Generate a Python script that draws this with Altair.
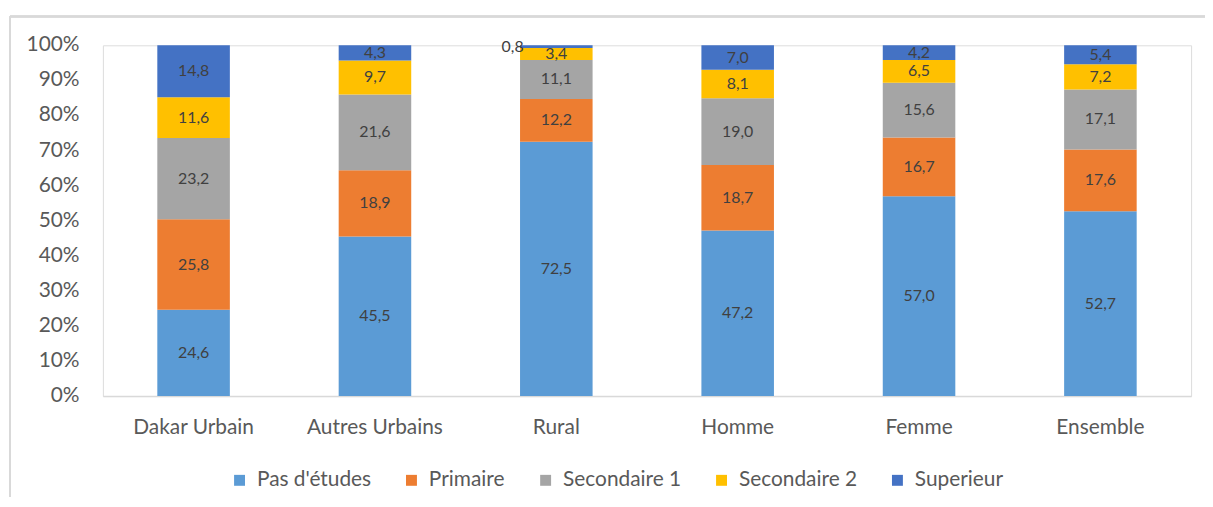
import altair as alt
import pandas as pd

categories = ["Dakar Urbain", "Autres Urbains", "Rural", "Homme", "Femme", "Ensemble"]
series = ["Pas d'études", "Primaire", "Secondaire 1", "Secondaire 2", "Superieur"]
colors = ["#5B9BD5", "#ED7D31", "#A5A5A5", "#FFC000", "#4472C4"]
y_ticks = [0, 10, 20, 30, 40, 50, 60, 70, 80, 90, 100]

pas_etudes = [24.6, 45.5, 72.5, 47.2, 57.0, 52.7]
primaire = [25.8, 18.9, 12.2, 18.7, 16.7, 17.6]
secondaire1 = [23.2, 21.6, 11.1, 19.0, 15.6, 17.1]
secondaire2 = [11.6, 9.7, 3.4, 8.1, 6.5, 7.2]
superieur = [14.8, 4.3, 0.8, 7.0, 4.2, 5.4]

values = [pas_etudes, primaire, secondaire1, secondaire2, superieur]

rows = []
for si, (s, vals) in enumerate(zip(series, values)):
    for c, v in zip(categories, vals):
        rows.append({"cat": c, "serie": s, "order": si, "value": v,
                     "label": f"{v:.1f}".replace(".", ",")})
df = pd.DataFrame(rows)
tick_df = pd.DataFrame({"t": y_ticks, "tl": [f"{t}%" for t in y_ticks]})

FONT = "Lato"
AX = 21

base = alt.Chart(df).transform_stack(
    stack="value", groupby=["cat"], sort=[alt.SortField("order", order="ascending")],
    as_=["y0", "y1"]
).transform_calculate(mid="(datum.y0 + datum.y1) / 2")

xaxis = alt.Axis(labelAngle=0, ticks=False, domainColor="#D9D9D9", domainWidth=1.5,
                 labelFontSize=AX, labelColor="#595959", labelPadding=21, labelFont=FONT)
xscale = alt.Scale(paddingInner=0.6, paddingOuter=0.3)
yscale = alt.Scale(domain=[0, 100], nice=False)

bars = base.mark_bar().encode(
    x=alt.X("cat:N", sort=categories, title=None, scale=xscale, axis=xaxis),
    y=alt.Y("y0:Q", scale=yscale, axis=None),
    y2="y1:Q",
    color=alt.Color("serie:N", sort=series, scale=alt.Scale(domain=series, range=colors),
                    legend=alt.Legend(title=None, orient="none", direction="horizontal",
                                      legendX=127, legendY=427, symbolType="square",
                                      symbolSize=121, symbolStrokeWidth=0, labelFontSize=AX,
                                      labelColor="#595959", labelFont=FONT, columnPadding=30,
                                      labelOffset=7, padding=0)),
)

texts = base.transform_filter("datum.value >= 1").mark_text(
    fontSize=16, color="#404040", font=FONT, baseline="middle"
).encode(x=alt.X("cat:N", sort=categories, title=None, scale=xscale, axis=xaxis),
         y=alt.Y("mid:Q", scale=yscale, axis=None), text="label:N")

small = base.transform_filter("datum.value < 1").mark_text(
    fontSize=16, color="#404040", font=FONT, baseline="middle", dx=-44
).encode(x=alt.X("cat:N", sort=categories, title=None, scale=xscale, axis=xaxis),
         y=alt.Y("mid:Q", scale=yscale, axis=None), text="label:N")

ylabels = alt.Chart(tick_df).mark_text(
    fontSize=AX, color="#595959", font=FONT, align="right", baseline="middle", clip=False
).encode(x=alt.value(-23.5), y=alt.Y("t:Q", scale=yscale, axis=None), text="tl:N")

border_left = alt.Chart(df).mark_rule(color="#D9D9D9", strokeWidth=1.5, clip=False).encode(
    x=alt.value(-93.5), y=alt.value(-29), y2=alt.value(460))
border_top = alt.Chart(df).mark_rule(color="#D9D9D9", strokeWidth=1.5, clip=False).encode(
    x=alt.value(-93.5), x2=alt.value(1120), y=alt.value(-29))

chart = alt.layer(bars, texts, small, ylabels, border_left, border_top).properties(
    width=1095, height=353,
    autosize=alt.AutoSizeParams(type="none"),
    padding={"left": 95.5, "top": 36, "right": 14, "bottom": 100},
).configure_view(stroke=None).configure(background="white")

chart.save("out.html", embed_options={"renderer": "svg", "actions": False})
